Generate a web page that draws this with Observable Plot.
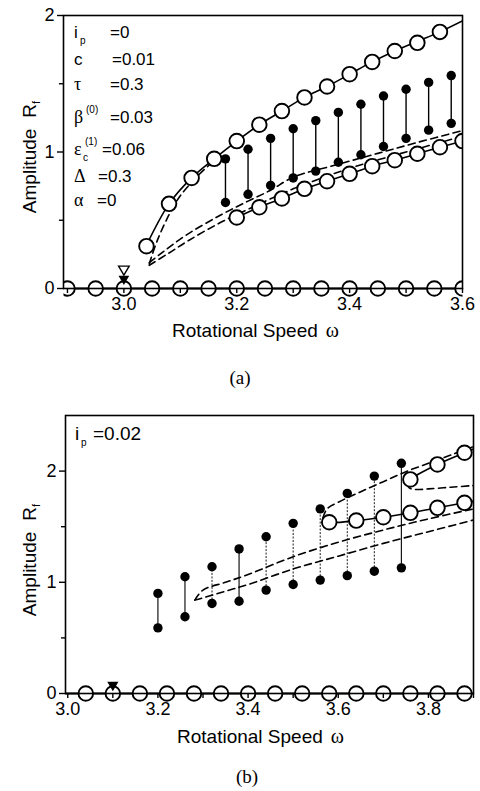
<!DOCTYPE html>
<html><head><meta charset="utf-8">
<script src="https://cdn.jsdelivr.net/npm/d3@7"></script>
<script src="https://cdn.jsdelivr.net/npm/@observablehq/plot@0.6"></script>
<style>
body{margin:0;background:#fff;}
#wrap{position:relative;width:480px;height:791px;overflow:hidden;font-family:"Liberation Sans",Arial,sans-serif;}
.panel{position:absolute;left:0;}
.cap{position:absolute;left:0;width:480px;text-align:center;font-family:"Liberation Serif","DejaVu Serif",serif;font-size:19px;line-height:1;}
</style></head><body><div id="wrap"></div>
<script>
// ---------- Panel (a) data ----------
const aZeroX = [2.90,2.95,3.00,3.05,3.10,3.15,3.20,3.25,3.30,3.35,3.40,3.45,3.50,3.55,3.60];
const aUpperCircX = [3.04,3.08,3.12,3.16,3.20,3.24,3.28,3.32,3.36,3.40,3.44,3.48,3.52,3.56];
const aUpperCircY = [0.31,0.62,0.81,0.95,1.08,1.20,1.30,1.40,1.48,1.57,1.66,1.74,1.80,1.88];
const aUpperCurveX = [3.038,3.08,3.12,3.16,3.20,3.24,3.28,3.32,3.36,3.40,3.44,3.48,3.52,3.56,3.60];
const aUpperCurveY = [0.30,0.62,0.81,0.95,1.08,1.20,1.30,1.40,1.48,1.57,1.66,1.74,1.81,1.88,1.96];
const aLowerCircX = [3.20,3.24,3.28,3.32,3.36,3.40,3.44,3.48,3.52,3.56,3.60];
const aLowerCircY = [0.52,0.595,0.66,0.73,0.786,0.84,0.896,0.94,0.987,1.035,1.08];
const aDotX  = [3.18,3.22,3.26,3.30,3.34,3.38,3.42,3.46,3.50,3.54,3.58];
const aDotHi = [0.95,1.02,1.10,1.17,1.23,1.29,1.35,1.41,1.46,1.51,1.56];
const aDotLo = [0.63,0.69,0.755,0.81,0.86,0.925,0.98,1.04,1.10,1.16,1.21];
const aDash1X = [3.045,3.06,3.085,3.10,3.125,3.15,3.17];
const aDash1Y = [0.18,0.36,0.58,0.68,0.80,0.90,0.96];
const aDash2X = [3.045,3.07,3.11,3.17,3.22,3.26,3.30,3.38,3.45,3.52,3.60];
const aDash2Y = [0.19,0.27,0.39,0.535,0.64,0.72,0.815,0.91,0.99,1.07,1.157];
const aDash3X = [3.045,3.08,3.114,3.167,3.22,3.30,3.40,3.50,3.60];
const aDash3Y = [0.17,0.26,0.35,0.474,0.58,0.73,0.88,1.00,1.115];
const aOpenTri = {x: 3.00, y: 0.135};
const aFillTri = {x: 3.00, y: 0.065};
const aXTicks = [3.0,3.2,3.4,3.6], aXMinor = [2.9,3.1,3.3,3.5];
const aYTicks = [0,1,2], aYMinor = [0.5,1.5];
const aParams = [
  {sym:"i", sub:"p", val:"=0"},
  {sym:"c", val:"=0.01"},
  {sym:"τ", val:"=0.3"},
  {sym:"β", sup:"(0)", val:"=0.03"},
  {sym:"ε", sub:"c", sup:"(1)", val:"=0.06"},
  {sym:"Δ", val:"=0.3"},
  {sym:"α", val:"=0"}
];

// ---------- Panel (b) data ----------
const bZeroX = [3.04,3.10,3.16,3.22,3.28,3.34,3.40,3.46,3.52,3.58,3.64,3.70,3.76,3.82,3.88];
const bDotX  = [3.20,3.26,3.32,3.38,3.44,3.50,3.56,3.62,3.68,3.74];
const bDotHi = [0.90,1.05,1.14,1.30,1.41,1.53,1.66,1.80,1.955,2.07];
const bDotLo = [0.59,0.69,0.81,0.83,0.93,0.98,1.02,1.06,1.10,1.13];
const bLowerCircX = [3.58,3.64,3.70,3.76,3.82,3.88];
const bLowerCircY = [1.54,1.555,1.585,1.625,1.67,1.715];
const bLowerCurveX = [3.566,3.58,3.64,3.70,3.76,3.82,3.88,3.90];
const bLowerCurveY = [1.57,1.54,1.555,1.585,1.625,1.67,1.715,1.73];
const bUpperCircX = [3.76,3.82,3.88];
const bUpperCircY = [1.925,2.06,2.165];
const bUpperCurveX = [3.754,3.76,3.82,3.88,3.90];
const bUpperCurveY = [1.89,1.925,2.06,2.165,2.20];
const bDash1X = [3.566,3.575,3.60,3.65,3.70,3.75,3.80,3.85,3.90];
const bDash1Y = [1.58,1.66,1.72,1.815,1.905,1.995,2.07,2.145,2.22];
const bDash2X = [3.754,3.757,3.77,3.80,3.85,3.90];
const bDash2Y = [1.89,1.85,1.835,1.84,1.855,1.87];
const bDash3X = [3.282,3.30,3.35,3.40,3.50,3.60,3.70,3.80,3.90];
const bDash3Y = [0.84,0.93,1.00,1.07,1.23,1.36,1.47,1.57,1.66];
const bDash4X = [3.282,3.30,3.35,3.40,3.50,3.60,3.70,3.80,3.90];
const bDash4Y = [0.84,0.86,0.92,0.98,1.12,1.235,1.35,1.455,1.56];
const bFillTri = {x: 3.10, y: 0.07};
const bXTicks = [3.0,3.2,3.4,3.6,3.8], bXMinor = [3.1,3.3,3.5,3.7,3.9];
const bYTicks = [0,1,2], bYMinor = [0.5,1.5];
const bParams = [{sym:"i", sub:"p", val:"=0.02"}];

// ---------- helpers ----------
const pts = (xs, ys) => xs.map((x,i) => ({x, y: ys[i]}));
const downTri = {draw(ctx, size){ const h = Math.sqrt(size/Math.PI)*1.15;
  ctx.moveTo(-h, -h*0.75); ctx.lineTo(h, -h*0.75); ctx.lineTo(0, h*0.95); ctx.closePath(); }};
const SERIF = "'Liberation Serif','DejaVu Serif',serif";
const OPEN_R = 7.3;
let clipCount = 0;

function buildPanel(o){
  const dots = o.dotX.map((x,i)=>({x, hi:o.dotHi[i], lo:o.dotLo[i], i}));
  const dash = {stroke:"#000", strokeWidth:1.6, strokeDasharray:"7,4.5", curve:"catmull-rom", clip:true};
  const circ = {x:"x", y:"y", r:OPEN_R, fill:"#fff", stroke:"#000", strokeWidth:1.9};
  const marks = [
    Plot.ruleY([0], {stroke:"#000", strokeWidth:1.8}),
    ...o.dashes.map(d => Plot.line(pts(d[0], d[1]), {x:"x", y:"y", ...dash})),
    ...o.solids.map(d => Plot.line(pts(d[0], d[1]), {x:"x", y:"y", stroke:"#000", strokeWidth:1.6, curve:"catmull-rom", clip:true})),
    Plot.ruleX(dots.filter(d=>!o.dotted.has(d.i)), {x:"x", y1:"lo", y2:"hi", stroke:"#000", strokeWidth:o.linkW}),
    Plot.ruleX(dots.filter(d=>o.dotted.has(d.i)), {x:"x", y1:"lo", y2:"hi", stroke:"#000", strokeWidth:0.9, strokeDasharray:"2,1.5"}),
    Plot.dot(dots, {x:"x", y:"hi", r:4.7, fill:"#000", stroke:"none"}),
    Plot.dot(dots, {x:"x", y:"lo", r:4.7, fill:"#000", stroke:"none"}),
    ...o.circles.map(d => Plot.dot(pts(d[0], d[1]), circ)),
    Plot.dot(pts(o.zeroX, o.zeroX.map(()=>0)), circ),
    ...o.tris.map(t => Plot.dot([t.p], {x:"x", y:"y", symbol:downTri, r:t.r, fill:t.fill, stroke:"#000", strokeWidth:1.4})),
    Plot.frame({stroke:"#000", strokeWidth:1.6}),
    Plot.axisX({ticks:o.xTicks, tickFormat:d3.format(".1f"), tickSize:5, tickPadding:4, label:null, strokeWidth:1.4}),
    Plot.axisX({ticks:o.xMinor, tickFormat:()=> "", tickSize:5, label:null, strokeWidth:1.4}),
    Plot.axisY({ticks:o.yTicks, tickFormat:d3.format("d"), tickSize:6, tickPadding:3, label:null, strokeWidth:1.4}),
    Plot.axisY({ticks:o.yMinor, tickFormat:()=> "", tickSize:4, label:null, strokeWidth:1.4})
  ];
  const chart = Plot.plot({
    width:480, height:o.height,
    marginTop:o.mt, marginRight:o.mr, marginBottom:o.mb, marginLeft:o.ml,
    x:{domain:o.xDomain}, y:{domain:o.yDomain},
    style:{fontFamily:"'Liberation Sans',Arial,sans-serif", fontSize:"18px", color:"#000", background:"#fff"},
    marks
  });
  const svg = d3.select(chart);
  // open circles are clipped horizontally at the frame edges only
  const cid = "xclip" + (++clipCount);
  svg.append("defs").append("clipPath").attr("id", cid).append("rect")
    .attr("x", o.ml).attr("y", -20).attr("width", 480 - o.ml - o.mr).attr("height", o.height + 40);
  svg.selectAll("circle").filter(function(){ return +this.getAttribute("r") === OPEN_R; })
    .attr("clip-path", `url(#${cid})`);
  // x label
  const xl = svg.append("text").attr("x", o.xLabel.x).attr("y", o.xLabel.y)
    .attr("text-anchor", "start").attr("font-size", 19).attr("fill", "#000");
  xl.append("tspan").text("Rotational Speed");
  xl.append("tspan").attr("dx", 8).attr("font-family", SERIF).attr("font-size", 20).text("ω");
  // y label
  const yl = svg.append("text").attr("transform", `translate(${o.yLabel.x},${o.yLabel.y}) rotate(-90)`)
    .attr("text-anchor", "middle").attr("font-size", 19).attr("fill", "#000");
  yl.append("tspan").text("Amplitude");
  yl.append("tspan").attr("dx", 11).text("R");
  yl.append("tspan").attr("font-size", 11).attr("dy", 4).text("f");
  // parameter block
  o.params.forEach((p, k) => {
    const base = o.paramY[k];
    const g = svg.append("g").attr("font-size", o.paramFont).attr("fill", "#000").attr("text-anchor", "start");
    const latin = /^[a-z]$/.test(p.sym);
    g.append("text").attr("x", o.paramX).attr("y", base)
      .attr("font-family", latin ? null : SERIF).attr("font-size", latin ? o.paramFont : o.paramFont + 1).text(p.sym);
    if (p.sub) g.append("text").attr("x", o.paramX + (p.sym === "i" ? 6 : 9)).attr("y", base + 6).attr("font-size", 10).text(p.sub);
    if (p.sup) g.append("text").attr("x", o.paramX + (p.sub ? 11 : 12)).attr("y", base - 10).attr("font-size", 10).text(p.sup);
    g.append("text").attr("x", o.valX[k]).attr("y", base).text(p.val);
  });
  return chart;
}

const wrap = document.getElementById("wrap");

const chartA = buildPanel({
  height:350, mt:15, mr:18, mb:62, ml:63,
  xDomain:[2.893, 3.6], yDomain:[0, 2],
  zeroX:aZeroX,
  dotX:aDotX, dotHi:aDotHi, dotLo:aDotLo, dotted:new Set(), linkW:1.4,
  dashes:[[aDash1X,aDash1Y],[aDash2X,aDash2Y],[aDash3X,aDash3Y]],
  solids:[[aUpperCurveX,aUpperCurveY],[aLowerCircX,aLowerCircY]],
  circles:[[aUpperCircX,aUpperCircY],[aLowerCircX,aLowerCircY]],
  tris:[{p:aOpenTri, r:4.6, fill:"#fff"},{p:aFillTri, r:3.6, fill:"#000"}],
  xTicks:aXTicks, xMinor:aXMinor, yTicks:aYTicks, yMinor:aYMinor,
  xLabel:{x:172, y:337}, yLabel:{x:36, y:157},
  params:aParams, paramX:74, paramY:[38,65,90,123,155,182,206], valX:[110,112,110,110,102,98,97], paramFont:17
});
chartA.classList.add("panel"); chartA.style.top = "0px";
wrap.appendChild(chartA);

const chartB = buildPanel({
  height:350, mt:15, mr:7, mb:57, ml:65,
  xDomain:[2.995, 3.9], yDomain:[0, 2.5],
  zeroX:bZeroX,
  dotX:bDotX, dotHi:bDotHi, dotLo:bDotLo, dotted:new Set([2,4,5,6,7,8]), linkW:1.1,
  dashes:[[bDash1X,bDash1Y],[bDash2X,bDash2Y],[bDash3X,bDash3Y],[bDash4X,bDash4Y]],
  solids:[[bLowerCurveX,bLowerCurveY],[bUpperCurveX,bUpperCurveY]],
  circles:[[bLowerCircX,bLowerCircY],[bUpperCircX,bUpperCircY]],
  tris:[{p:bFillTri, r:3.8, fill:"#000"}],
  xTicks:bXTicks, xMinor:bXMinor, yTicks:bYTicks, yMinor:bYMinor,
  xLabel:{x:177, y:343}, yLabel:{x:36, y:160},
  params:bParams, paramX:75, paramY:[40], valX:[93], paramFont:19
});
chartB.classList.add("panel"); chartB.style.top = "400px";
wrap.appendChild(chartB);

const capA = document.createElement("div"); capA.className = "cap"; capA.style.top = "368px"; capA.textContent = "(a)";
const capB = document.createElement("div"); capB.className = "cap"; capB.style.top = "767px"; capB.style.left = "7px"; capB.textContent = "(b)";
wrap.appendChild(capA); wrap.appendChild(capB);
</script></body></html>
